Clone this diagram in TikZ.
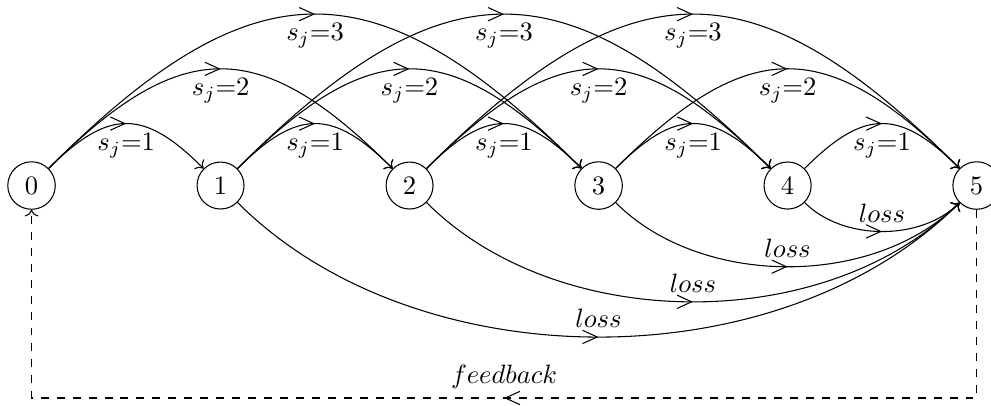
\documentclass[tikz,border=0pt]{standalone}
\usetikzlibrary{decorations.markings, arrows.meta}
\begin{document}
\begin{tikzpicture}[
    stato/.style={circle, draw},
    freccia/.style={->, postaction={decorate},
        decoration={markings, mark=at position 0.5 with {\arrow{Straight Barb[length=5.5pt, width=5pt]}}}},
    salto/.style={freccia, bend left=45, looseness=1.4},
    perdita/.style={freccia, bend right=45, looseness=0.9}]
            \useasboundingbox (-0.417,-2.903) rectangle (12.69,2.454);

            % Stati
            \node[stato] (N0) at (0,0) {0};
            \node[stato] (N1) at (2.5,0) {1};
            \node[stato] (N2) at (5,0) {2};
            \node[stato] (N3) at (7.5,0) {3};
            \node[stato] (N4) at (10,0) {4};
            \node[stato] (N5) at (12.5,0) {5};

            % Salti s_j=1
            \draw[salto] (N0) to node[below] (A01) {$s_j{=}1$} (N1);
            \draw[salto] (N1) to node[below] (A12) {$s_j{=}1$} (N2);
            \draw[salto] (N2) to node[below] (A23) {$s_j{=}1$} (N3);
            \draw[salto] (N3) to node[below] (A34) {$s_j{=}1$} (N4);
            \draw[salto] (N4) to node[below] (A45) {$s_j{=}1$} (N5);

            % Salti s_j=2
            \draw[salto] (N0) to node[below] (B02) {$s_j{=}2$} (N2);
            \draw[salto] (N1) to node[below] (B13) {$s_j{=}2$} (N3);
            \draw[salto] (N2) to node[below] (B24) {$s_j{=}2$} (N4);
            \draw[salto] (N3) to node[below] (B35) {$s_j{=}2$} (N5);

            % Salti s_j=3
            \draw[salto] (N0) to node[below] (C03) {$s_j{=}3$} (N3);
            \draw[salto] (N1) to node[below] (C14) {$s_j{=}3$} (N4);
            \draw[salto] (N2) to node[below] (C25) {$s_j{=}3$} (N5);

            % Perdite
            \draw[perdita] (N4) to node[above] (P4) {$loss$} (N5);
            \draw[perdita] (N3) to node[above] (P3) {$loss$} (N5);
            \draw[perdita] (N2) to node[above] (P2) {$loss$} (N5);
            \draw[perdita] (N1) to node[above] (P1) {$loss$} (N5);

            % Retroazione
            \coordinate (R5) at (12.5,-2.81);
            \coordinate (R0) at (0,-2.81);
            \draw[freccia, dashed] (N5) -- (R5) -- node[above] (F) {$feedback$} (R0) -- (N0);
        \end{tikzpicture}
\end{document}
